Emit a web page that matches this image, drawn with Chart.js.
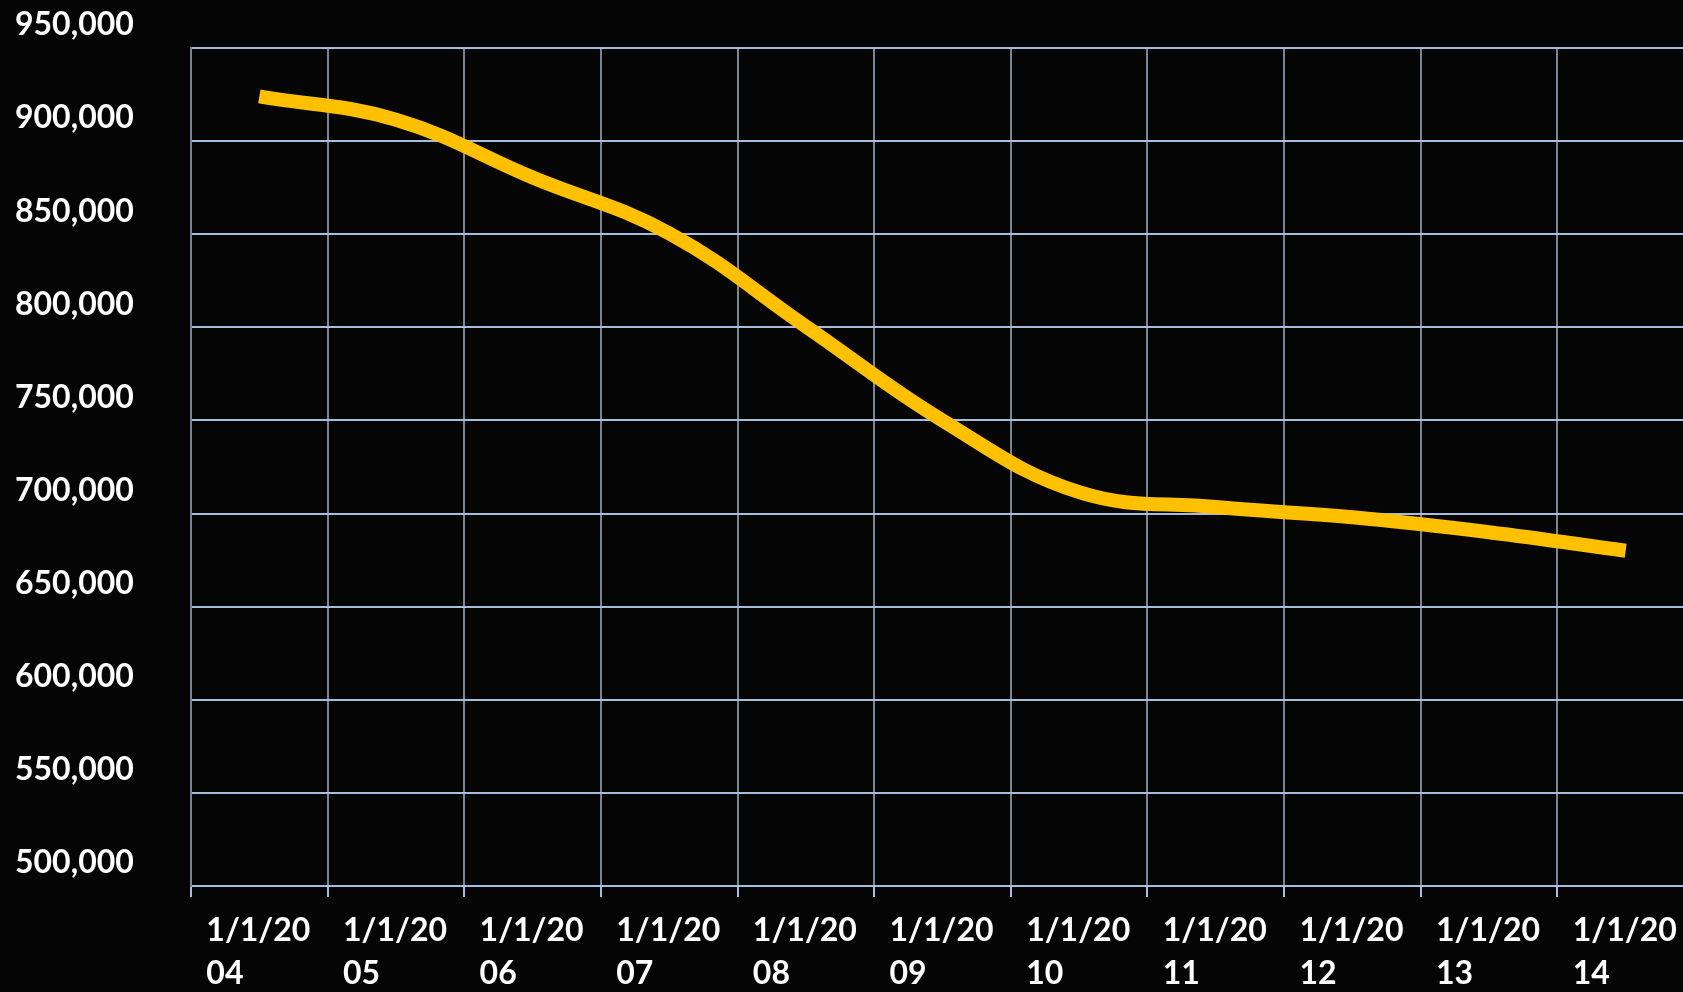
<!DOCTYPE html>
<html>
<head>
<meta charset="utf-8">
<script src="https://cdn.jsdelivr.net/npm/chart.js@4/dist/chart.umd.min.js"></script>
<style>
html,body{margin:0;padding:0;background:#050505;overflow:hidden;width:1683px;height:992px}
canvas{display:block}
</style>
</head>
<body>
<canvas id="c" width="1700" height="992"></canvas>
<script>
// ---- data ----
const categories = ['2004','2005','2006','2007','2008','2009','2010','2011','2012','2013','2014'];
const xTickLabels = [
  ['1/1/20','04'],['1/1/20','05'],['1/1/20','06'],['1/1/20','07'],['1/1/20','08'],
  ['1/1/20','09'],['1/1/20','10'],['1/1/20','11'],['1/1/20','12'],['1/1/20','13'],['1/1/20','14']
];
const values = [924000, 911500, 880500, 850500, 800500, 750000, 711500, 703500, 698000, 690000, 680000];
const yMin = 500000;
const yMax = 950000;
const yStep = 50000;

const FONT = { family: 'Lato, "Open Sans", sans-serif', size: 32, weight: 'bold', lineHeight: 1.35 };

new Chart(document.getElementById('c'), {
  type: 'line',
  data: {
    labels: xTickLabels,
    datasets: [{
      data: values,
      borderColor: '#ffc000',
      borderWidth: 14,
      tension: 0.4,
      pointRadius: 0,
      fill: false
    }]
  },
  options: {
    responsive: false,
    animation: false,
    devicePixelRatio: 1,
    layout: { padding: { left: 15, right: 6, top: 48, bottom: 0 } },
    plugins: { legend: { display: false }, tooltip: { enabled: false } },
    scales: {
      x: {
        offset: true,
        grid: { offset: true, color: '#7d8594', lineWidth: 2, tickLength: 11, tickColor: '#a7bde0' },
        border: { display: true, color: '#a7bde0', width: 2 },
        ticks: {
          color: '#ffffff', font: FONT, padding: 12,
          align: 'start', labelOffset: -53, maxRotation: 0, autoSkip: false
        },
        afterFit(scale) { scale.height = 106; scale.paddingLeft = 0; scale.paddingRight = 0; }
      },
      y: {
        min: yMin, max: yMax,
        grid: { color: '#a7bde0', lineWidth: 2, drawTicks: false },
        border: { display: true, color: '#7d8594', width: 2 },
        ticks: {
          stepSize: yStep, color: '#ffffff', font: FONT, padding: 10,
          crossAlign: 'far', labelOffset: -23,
          callback: v => v.toLocaleString('en-US')
        },
        afterFit(scale) { scale.width = 176; scale.paddingTop = 0; scale.paddingBottom = 0; }
      }
    }
  },
  plugins: [{
    id: 'bg',
    beforeDraw(chart) {
      const ctx = chart.ctx;
      ctx.save();
      ctx.fillStyle = '#050505';
      ctx.fillRect(0, 0, chart.width, chart.height);
      ctx.restore();
    }
  }]
});
</script>
</body>
</html>
